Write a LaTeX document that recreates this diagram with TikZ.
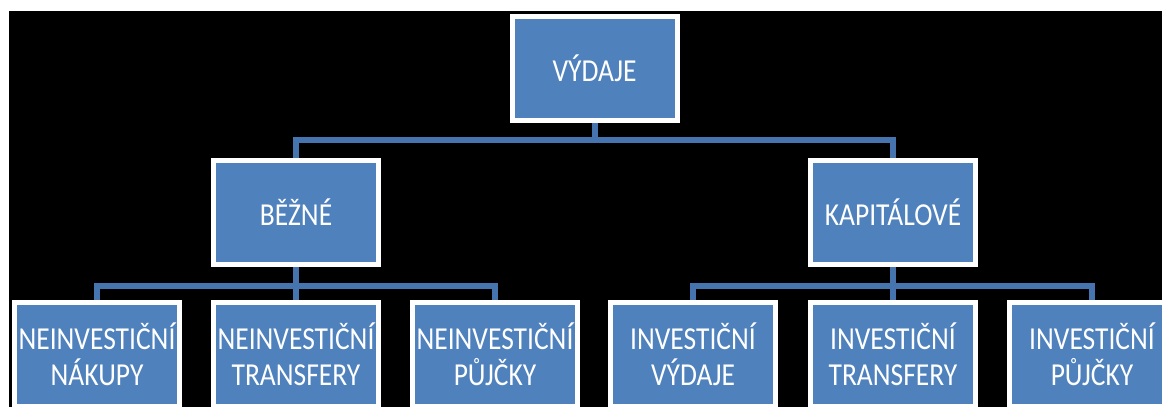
\documentclass[tikz,border=0pt]{standalone}
\usepackage{fontspec}
\setmainfont{Carlito}[FakeStretch=0.86]
\definecolor{boxblue}{HTML}{4F81BD}
\definecolor{linkblue}{HTML}{4674AE}
\tikzset{box/.style={draw=white, line width=5pt, fill=boxblue, text=white, minimum width=165pt, minimum height=104pt, inner sep=0pt, align=center, font=\fontsize{32}{36}\selectfont}}
\tikzset{link/.style={linkblue, line width=6pt}}

\begin{document}
\begin{tikzpicture}[x=1pt, y=1pt]
		% Background
		\fill[white] (0,0) rectangle (1162,407);
		\fill[black] (9,0) rectangle (1162,396);
		\useasboundingbox (0,0) rectangle (1162,407);

		% Boxes
		\node[box] (vydaje) at (594.5,338.5) {VÝDAJE};
		\node[box] (bezne) at (296,194.5) {BĚŽNÉ};
		\node[box] (kapital) at (893,194.5) {KAPITÁLOVÉ};
		%% Leaves
		\node[box] (nakupy) at (97,52.5) {NEINVESTIČNÍ\\NÁKUPY};
		\node[box] (ntransfery) at (296,52.5) {NEINVESTIČNÍ\\TRANSFERY};
		\node[box] (npujcky) at (495,52.5) {NEINVESTIČNÍ\\PŮJČKY};
		\node[box] (ivydaje) at (693,52.5) {INVESTIČNÍ\\VÝDAJE};
		\node[box] (itransfery) at (893,52.5) {INVESTIČNÍ\\TRANSFERY};
		\node[box] (ipujcky) at (1092,52.5) {INVESTIČNÍ\\PŮJČKY};

		% Connectors
		\draw[link] (vydaje.south) -- ++(0,-17) coordinate (bus) -| (bezne.north);
		\draw[link] (bus) -| (kapital.north);
		%% Left branch
		\draw[link] (bezne.south) -- ++(0,-19) coordinate (lbus) -| (nakupy.north);
		\draw[link] (lbus) -- (ntransfery.north);
		\draw[link] (lbus) -| (npujcky.north);
		%% Right branch
		\draw[link] (kapital.south) -- ++(0,-19) coordinate (rbus) -| (ivydaje.north);
		\draw[link] (rbus) -- (itransfery.north);
		\draw[link] (rbus) -| (ipujcky.north);
	\end{tikzpicture}
\end{document}
